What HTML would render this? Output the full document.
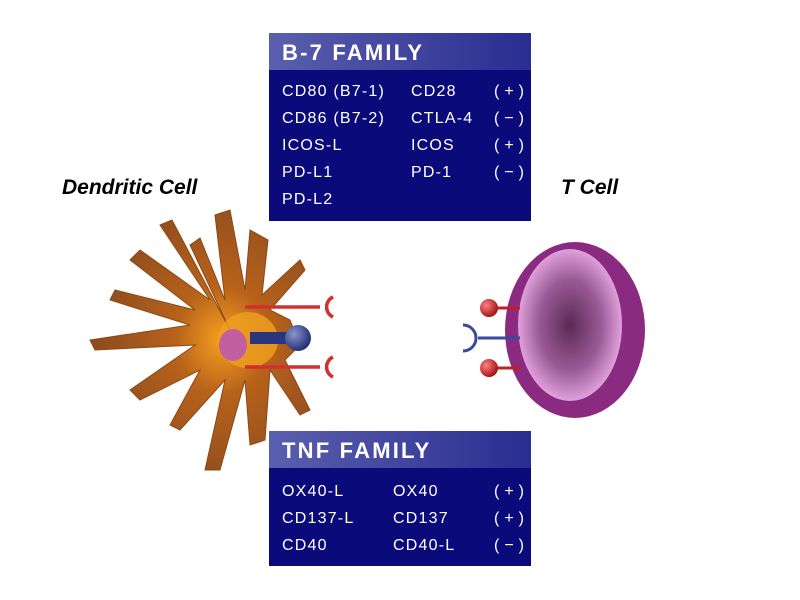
<!DOCTYPE html>
<html><head><meta charset="utf-8"><style>
body{margin:0;background:#fff;width:800px;height:600px;overflow:hidden;position:relative;font-family:"Liberation Sans",sans-serif}
.box{position:absolute;left:269px;width:262px;background:#0a0a7a;color:#fff}
.hd{height:37px;background:linear-gradient(90deg,#5a5fae,#2a2d90);font-weight:bold;font-size:22px;letter-spacing:2.2px;line-height:39px;padding-left:13px}
.r{position:relative;height:27px;font-size:16px;letter-spacing:1.2px}
.r span{position:absolute;top:0}
.s{letter-spacing:5px}
.lbl{position:absolute;font-weight:bold;font-style:italic;font-size:21px}
</style></head><body>
<svg width="800" height="600" style="position:absolute;left:0;top:0">
<defs>
<radialGradient id="dc" cx="0.6" cy="0.5" r="0.6"><stop offset="0" stop-color="#f5a020"/><stop offset="0.35" stop-color="#b8621a"/><stop offset="1" stop-color="#8a4a20"/></radialGradient>
<radialGradient id="tc" cx="0.5" cy="0.5" r="0.5"><stop offset="0" stop-color="#5a2a55"/><stop offset="0.6" stop-color="#9a5a95"/><stop offset="1" stop-color="#e0a0dc"/></radialGradient>
<radialGradient id="rb" cx="0.35" cy="0.35" r="0.7"><stop offset="0" stop-color="#ff8080"/><stop offset="1" stop-color="#a01010"/></radialGradient>
<radialGradient id="bb" cx="0.35" cy="0.35" r="0.7"><stop offset="0" stop-color="#8a96d0"/><stop offset="1" stop-color="#1f2a70"/></radialGradient>
</defs>
<g fill="url(#dc)" stroke="#8a4a18" stroke-width="1">
<polygon points="230,330 190,245 200,238 225,300 215,215 230,210 245,290 250,230 268,240 262,295 300,260 305,270 270,310 290,320 300,345 285,360 310,410 300,415 270,370 265,440 250,445 245,380 220,470 205,470 225,380 180,430 170,425 200,370 140,400 130,390 195,345 95,350 90,340 190,325 110,300 115,290 195,310 130,260 140,250 210,300 160,225 172,220"/>
</g>
<ellipse cx="248" cy="340" rx="30" ry="28" fill="#f0a020" opacity="0.8"/>
<ellipse cx="233" cy="345" rx="14" ry="16" fill="#c060a0"/>
<g stroke="#d03030" stroke-width="3.5" fill="none">
<line x1="245" y1="307" x2="320" y2="307"/><line x1="245" y1="367" x2="320" y2="367"/>
<path d="M333,297 A11,11 0 0 0 333,317"/><path d="M333,357 A11,11 0 0 0 333,377"/>
</g>
<rect x="250" y="332" width="45" height="12" fill="#2a3580"/>
<circle cx="298" cy="338" r="13" fill="url(#bb)"/>
<ellipse cx="575" cy="330" rx="70" ry="88" fill="#8a2a80"/>
<ellipse cx="570" cy="325" rx="52" ry="76" fill="url(#tc)"/>
<g stroke="#c02020" stroke-width="3"><line x1="490" y1="308" x2="520" y2="308"/><line x1="490" y1="368" x2="520" y2="368"/></g>
<circle cx="489" cy="308" r="9" fill="url(#rb)"/><circle cx="489" cy="368" r="9" fill="url(#rb)"/>
<g stroke="#3a4aa0" stroke-width="3" fill="none"><line x1="478" y1="338" x2="520" y2="338"/><path d="M463,325 A13,13 0 0 1 463,351"/></g>
</svg>
<div class="lbl" style="left:62px;top:176px">Dendritic Cell</div>
<div class="lbl" style="left:561px;top:176px">T Cell</div>
<div class="box" style="top:33px;height:188px"><div class="hd">B-7 FAMILY</div>
<div style="height:13px"></div>
<div class="r"><span style="left:13px">CD80 (B7-1)</span><span style="left:142px">CD28</span><span class="s" style="left:225px">(+)</span></div>
<div class="r"><span style="left:13px">CD86 (B7-2)</span><span style="left:142px">CTLA-4</span><span class="s" style="left:225px">(−)</span></div>
<div class="r"><span style="left:13px">ICOS-L</span><span style="left:142px">ICOS</span><span class="s" style="left:225px">(+)</span></div>
<div class="r"><span style="left:13px">PD-L1</span><span style="left:142px">PD-1</span><span class="s" style="left:225px">(−)</span></div>
<div class="r"><span style="left:13px">PD-L2</span></div>
</div>
<div class="box" style="top:431px;height:135px"><div class="hd">TNF FAMILY</div>
<div style="height:15px"></div>
<div class="r"><span style="left:13px">OX40-L</span><span style="left:124px">OX40</span><span class="s" style="left:225px">(+)</span></div>
<div class="r"><span style="left:13px">CD137-L</span><span style="left:124px">CD137</span><span class="s" style="left:225px">(+)</span></div>
<div class="r"><span style="left:13px">CD40</span><span style="left:124px">CD40-L</span><span class="s" style="left:225px">(−)</span></div>
</div>
</body></html>
